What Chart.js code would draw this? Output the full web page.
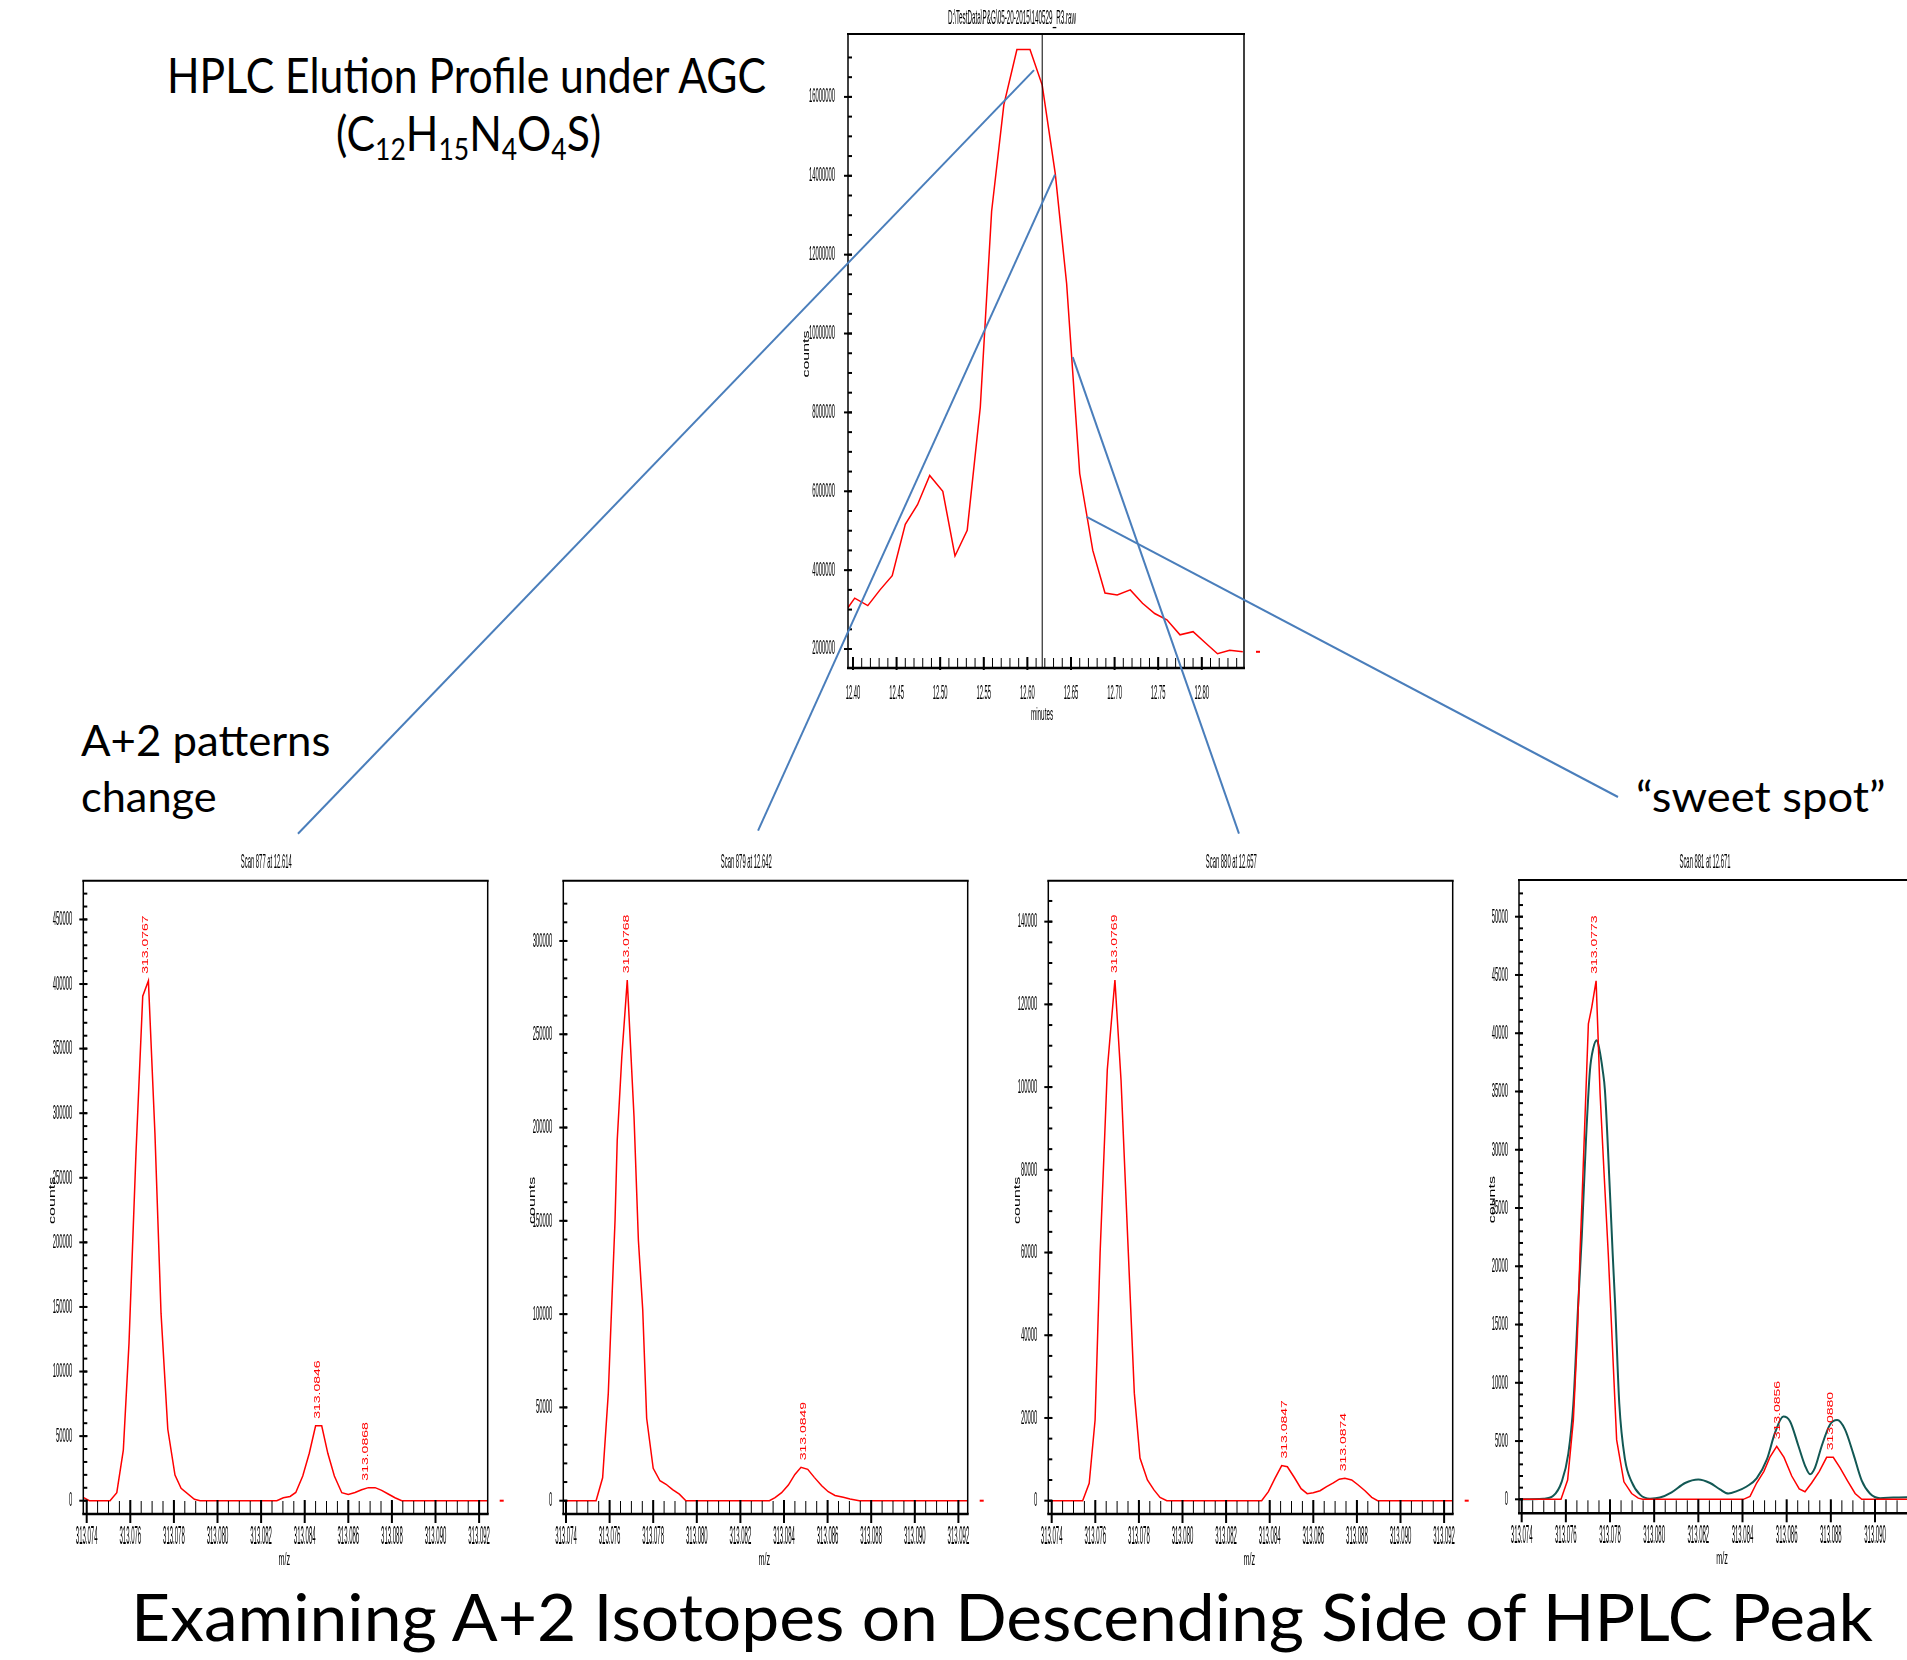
<!DOCTYPE html>
<html>
<head>
<meta charset="utf-8">
<script src="https://cdn.jsdelivr.net/npm/chart.js@4.4.1/dist/chart.umd.min.js"></script>
<style>
  html, body { margin: 0; padding: 0; background: #fff; }
  body { width: 1907px; height: 1660px; position: relative; overflow: hidden; }
  canvas.plot { position: absolute; }
  #callouts { position: absolute; left: 0; top: 0; pointer-events: none; z-index: 5; }
  .slide { position: absolute; font-family: Lato, "Open Sans", sans-serif; color: #000; white-space: nowrap; line-height: 1.2; }
  .slide sub { font-size: 0.62em; vertical-align: -0.3em; line-height: 0; }
</style>
</head>
<body>
<div class="slide" id="t-hplc" style="font-size:49px">HPLC Elution Profile under AGC</div>
<div class="slide" id="t-formula" style="font-size:49px">(C<sub>12</sub>H<sub>15</sub>N<sub>4</sub>O<sub>4</sub>S)</div>
<div class="slide" id="t-a2" style="font-size:43px">A+2 patterns</div>
<div class="slide" id="t-change" style="font-size:43px">change</div>
<div class="slide" id="t-sweet" style="font-size:43px">“sweet spot”</div>
<div class="slide" id="t-bottom" style="font-size:65px">Examining A+2 Isotopes on Descending Side of HPLC Peak</div>

<canvas class="plot" id="tic"></canvas>
<canvas class="plot" id="s877"></canvas>
<canvas class="plot" id="s879"></canvas>
<canvas class="plot" id="s880"></canvas>
<canvas class="plot" id="s881"></canvas>
<canvas id="callouts" width="1907" height="1660"></canvas>

<script>
// HPLC elution profile (total ion counts vs minutes)
const ticTime = [12.394, 12.402, 12.417, 12.431, 12.445, 12.460, 12.474, 12.488, 12.503, 12.517, 12.531,
  12.546, 12.559, 12.573, 12.588, 12.603, 12.617, 12.632, 12.645, 12.660, 12.675, 12.689, 12.703,
  12.718, 12.732, 12.746, 12.760, 12.775, 12.790, 12.804, 12.818, 12.832, 12.847];
const ticCounts = [3040000, 3290000, 3100000, 3500000, 3860000, 5160000, 5660000, 6400000, 6000000, 4360000, 5010000,
  8130000, 13100000, 15800000, 17200000, 17200000, 16300000, 14050000, 11270000, 6450000, 4500000, 3420000, 3370000,
  3500000, 3160000, 2900000, 2740000, 2360000, 2440000, 2160000, 1880000, 1970000, 1930000];
const ticTimeTicks = [12.40, 12.45, 12.50, 12.55, 12.60, 12.65, 12.70, 12.75, 12.80];
const ticCountTicks = [2000000, 4000000, 6000000, 8000000, 10000000, 12000000, 14000000, 16000000];
const ticCursor = 12.617;

// mass spectra around the A+2 region
const mzTicks = [313.074, 313.076, 313.078, 313.080, 313.082, 313.084, 313.086, 313.088, 313.090, 313.092];

const scan877Mz = [313.07384, 313.07412, 313.07507, 313.07538, 313.07568, 313.07594, 313.07626, 313.07657, 313.07683,
  313.07713, 313.07741, 313.07772, 313.07805, 313.07833, 313.07894, 313.07920, 313.08272, 313.08302, 313.08333,
  313.08359, 313.08391, 313.08421, 313.08450, 313.08478, 313.08506, 313.08536, 313.08570, 313.08600, 313.08631,
  313.08661, 313.08692, 313.08723, 313.08753, 313.08783, 313.08814, 313.08845, 313.09239];
const scan877Counts = [2600, 0, 0, 6200, 39200, 121800, 268900, 390600, 402500, 284400, 145000, 55300, 19900, 9600,
  1100, 0, 0, 2300, 3300, 6400, 19100, 36700, 58000, 58000, 36700, 19100, 6200, 4900, 6400, 8500, 10100, 10100,
  8000, 5200, 2300, 0, 0];
const scan877Peaks = ['313.0767', '313.0846', '313.0868'];
const scan877Ticks = [0, 50000, 100000, 150000, 200000, 250000, 300000, 350000, 400000, 450000];

const scan879Mz = [313.07388, 313.07538, 313.07568, 313.07594, 313.07610, 313.07625, 313.07635, 313.07656, 313.07681,
  313.07712, 313.07732, 313.07752, 313.07770, 313.07800, 313.07831, 313.07859, 313.07889, 313.07920, 313.07950,
  313.08333, 313.08359, 313.08389, 313.08420, 313.08450, 313.08478, 313.08509, 313.08539, 313.08573, 313.08603,
  313.08634, 313.08672, 313.08703, 313.08745, 313.09243];
const scan879Counts = [0, 0, 12300, 57500, 105800, 150400, 193300, 237900, 279000, 205800, 139700, 102200, 44200,
  17400, 10700, 8800, 5900, 3500, 0, 0, 1600, 4300, 8400, 14100, 17900, 16800, 12500, 8000, 4800, 2800, 1800, 900, 0, 0];
const scan879Peaks = ['313.0768', '313.0849'];
const scan879Ticks = [0, 50000, 100000, 150000, 200000, 250000, 300000];

const scan880Mz = [313.07384, 313.07542, 313.07572, 313.07599, 313.07622, 313.07655, 313.07690, 313.07718, 313.07749,
  313.07779, 313.07805, 313.07839, 313.07869, 313.07897, 313.07928, 313.08363, 313.08394, 313.08424, 313.08455,
  313.08481, 313.08513, 313.08544, 313.08572, 313.08600, 313.08631, 313.08661, 313.08692, 313.08719, 313.08745,
  313.08776, 313.08806, 313.08837, 313.08868, 313.08895, 313.09239];
const scan880Counts = [0, 0, 4200, 19500, 59800, 104200, 125900, 101700, 63000, 26000, 10300, 5000, 2600, 800, 0,
  0, 2200, 5400, 8500, 8200, 5600, 2900, 1700, 1900, 2400, 3400, 4300, 5200, 5400, 5000, 3800, 2400, 800, 0, 0];
const scan880Peaks = ['313.0769', '313.0847', '313.0874'];
const scan880Ticks = [0, 20000, 40000, 60000, 80000, 100000, 120000, 140000];

const scan881Mz = [313.07388, 313.07578, 313.07608, 313.07634, 313.07652, 313.07664, 313.07672, 313.07702, 313.07717,
  313.07737, 313.07755, 313.07773, 313.07792, 313.07830, 313.07863, 313.07898, 313.07928, 313.07948, 313.08404,
  313.08434, 313.08464, 313.08497, 313.08525, 313.08555, 313.08588, 313.08623, 313.08657, 313.08683, 313.08713,
  313.08748, 313.08781, 313.08811, 313.08842, 313.08875, 313.08910, 313.08940, 313.09227];
const scan881Counts = [0, 0, 1650, 6800, 13900, 21100, 25100, 40800, 42200, 44500, 34800, 28000, 21100, 5100, 1500,
  500, 100, 0, 0, 250, 1400, 2400, 3650, 4550, 3600, 2000, 900, 650, 1400, 2400, 3600, 3600, 2700, 1600, 500, 0, 0];
const scan881Peaks = ['313.0773', '313.0856', '313.0880'];
const scan881Ticks = [0, 5000, 10000, 15000, 20000, 25000, 30000, 35000, 40000, 45000, 50000];
// dark trace in scan 881
const scan881ModelMz = [313.07388, 313.07498, 313.07543, 313.07581, 313.07611, 313.07634, 313.07656, 313.07672,
  313.07691, 313.07709, 313.07724, 313.07740, 313.07751, 313.07767, 313.07777, 313.07800, 313.07812, 313.07823,
  313.07842, 313.07868, 313.07898, 313.07936, 313.07981, 313.08026, 313.08079, 313.08140, 313.08200, 313.08253,
  313.08298, 313.08336, 313.08374, 313.08419, 313.08464, 313.08510, 313.08547, 313.08585, 313.08615, 313.08653,
  313.08683, 313.08706, 313.08728, 313.08759, 313.08796, 313.08829, 313.08864, 313.08902, 313.08940, 313.08977,
  313.09023, 313.09083, 313.09144, 313.09227];
const scan881ModelCounts = [0, 50, 300, 1500, 3900, 8200, 16800, 22500, 30800, 36800, 38700, 39400, 38700, 36800,
  35100, 26200, 21100, 16800, 8200, 3400, 1500, 400, 50, 150, 600, 1400, 1700, 1400, 850, 500, 700, 1100, 1800,
  3400, 5700, 7100, 6700, 4600, 2900, 2150, 2700, 4600, 6400, 6800, 6000, 3900, 1600, 500, 100, 150, 180, 180];

const RED = 'rgb(255,0,0)';
const TEAL = 'rgb(18,88,84)';
const BLUE = '#4a7ebb';
const FONT = '"Liberation Sans", Arial, sans-serif';

function range(start, end, step) {
  const out = [];
  const n = Math.round((end - start) / step);
  for (let i = 0; i <= n; i++) out.push(start + i * step);
  return out;
}

function toPoints(xs, ys) {
  return xs.map((x, i) => ({ x: x, y: ys[i] }));
}

// squeezed instrument-style text (the exported screenshot was compressed)
function squish(ctx, text, x, y, o) {
  ctx.save();
  ctx.translate(x, y);
  if (o.rotate) ctx.rotate(-Math.PI / 2);
  ctx.scale(o.sx || 1, o.sy || 1);
  ctx.font = o.size + 'px ' + FONT;
  ctx.textAlign = o.align || 'center';
  ctx.textBaseline = o.baseline || 'middle';
  ctx.fillStyle = o.color || '#000';
  ctx.fillText(text, 0, 0);
  ctx.restore();
}

function seg(ctx, x1, y1, x2, y2, w) {
  ctx.lineWidth = w;
  ctx.beginPath();
  ctx.moveTo(x1, y1);
  ctx.lineTo(x2, y2);
  ctx.stroke();
}

const framePlugin = {
  id: 'frame',
  afterDatasetsDraw(chart, args, o) {
    const { ctx, chartArea: a, scales: { x, y } } = chart;
    ctx.save();
    ctx.strokeStyle = '#000';

    if (o.cursor != null) {
      const cx = x.getPixelForValue(o.cursor);
      seg(ctx, cx, a.top, cx, a.bottom, 1);
    }

    // x ticks sit inside the frame, majors poke below
    o.xMinor.forEach(v => {
      const px = x.getPixelForValue(v);
      if (px > a.left + 1 && px < a.right - 1) seg(ctx, px, a.bottom, px, a.bottom - o.xTickIn, 1);
    });
    o.xTicks.forEach(v => {
      const px = x.getPixelForValue(v);
      seg(ctx, px, a.bottom + o.xMajorOut, px, a.bottom - o.xTickIn - 1, 2);
      squish(ctx, v.toFixed(o.xDigits), px, a.bottom + o.xLabelGap, { size: o.xSize, sx: o.xSx });
    });

    o.yMinor.forEach(v => {
      const py = y.getPixelForValue(v);
      if (py > a.top + 3 && py < a.bottom - 3) seg(ctx, a.left, py, a.left + 4, py, 2);
    });
    o.yTicks.forEach(v => {
      const py = y.getPixelForValue(v);
      seg(ctx, a.left - 4, py, a.left + 4, py, 2);
      squish(ctx, String(v), a.left - o.yLabelGap, py, { size: o.ySize, sx: o.ySx, align: 'right' });
    });

    // frame
    seg(ctx, a.left - 1, a.top, a.right + 1, a.top, 2);
    seg(ctx, a.right, a.top, a.right, a.bottom, 1.5);
    seg(ctx, a.left, a.top, a.left, a.bottom, 1.5);
    seg(ctx, a.left - 1, a.bottom, a.right + 1, a.bottom, 2.5);

    // titles
    squish(ctx, o.title, a.left + o.titleDx, a.top + o.titleDy, { size: 21, sx: o.titleSx });
    squish(ctx, o.xTitle, a.left + o.xTitleDx, a.bottom + o.xTitleDy, { size: 18, sx: o.xTitleSx });
    squish(ctx, 'counts', a.left + o.yTitleDx, (a.top + a.bottom) / 2 + 3, { size: 16, sy: 0.6, rotate: true });

    // peak annotations above each labelled maximum
    const ds = chart.data.datasets[0].data;
    (o.peaks || []).forEach(label => {
      const m = parseFloat(label);
      let best = null;
      ds.forEach(p => { if (Math.abs(p.x - m) < 0.0004 && (!best || p.y > best.y)) best = p; });
      if (!best) return;
      squish(ctx, label, x.getPixelForValue(m), y.getPixelForValue(best.y) - 7,
        { size: 14, sy: 0.6, rotate: true, align: 'left', color: RED });
    });

    // trace end marker outside the frame
    const last = ds[ds.length - 1];
    ctx.fillStyle = RED;
    ctx.fillRect(a.right + 12, y.getPixelForValue(last.y) - 1, 4, 2);
    ctx.restore();
  }
};

function makeChart(id, place, datasets, scales, frame) {
  const cv = document.getElementById(id);
  cv.width = place.w;
  cv.height = place.h;
  cv.style.left = place.left + 'px';
  cv.style.top = place.top + 'px';
  cv.style.width = place.w + 'px';
  cv.style.height = place.h + 'px';
  return new Chart(cv, {
    type: 'line',
    data: { datasets: datasets },
    options: {
      responsive: false,
      animation: false,
      events: [],
      layout: { padding: place.pad },
      elements: { point: { radius: 0 }, line: { tension: 0 } },
      plugins: { legend: { display: false }, tooltip: { enabled: false }, frame: frame },
      scales: {
        x: { type: 'linear', display: false, min: scales.x[0], max: scales.x[1] },
        y: { type: 'linear', display: false, min: scales.y[0], max: scales.y[1] }
      }
    },
    plugins: [framePlugin]
  });
}

const specFrame = {
  xTicks: mzTicks, xMinor: range(313.074, 313.092, 0.0005), xDigits: 3,
  xTickIn: 13, xMajorOut: 9, xLabelGap: 23, xSize: 25, xSx: 0.24,
  yLabelGap: 11, ySize: 21, ySx: 0.28,
  titleDx: 183, titleDy: -18, titleSx: 0.28,
  xTitle: 'm/z', xTitleDx: 201, xTitleDy: 46, xTitleSx: 0.4,
  yTitleDx: -31
};

function redLine(xs, ys) {
  return { data: toPoints(xs, ys), borderColor: RED, borderWidth: 1.5, fill: false };
}

const tic = makeChart('tic',
  { left: 790, top: 0, w: 480, h: 730, pad: { left: 58, top: 34, right: 26, bottom: 62 } },
  [redLine(ticTime, ticCounts)],
  { x: [12.3943, 12.8484], y: [1519000, 17595000] },
  {
    xTicks: ticTimeTicks, xMinor: range(12.40, 12.84, 0.01), xDigits: 2,
    xTickIn: 10, xMajorOut: 2, xLabelGap: 26, xSize: 19.5, xSx: 0.3,
    yTicks: ticCountTicks, yMinor: range(2000000, 17000000, 500000),
    yLabelGap: 13, ySize: 19.5, ySx: 0.3,
    title: 'D:\\TestData\\P&G\\05-20-2015\\140529_R3.raw', titleDx: 164, titleDy: -16, titleSx: 0.3,
    xTitle: 'minutes', xTitleDx: 194, xTitleDy: 47, xTitleSx: 0.35,
    yTitleDx: -42, cursor: ticCursor
  });

const s877 = makeChart('s877',
  { left: 20, top: 840, w: 520, h: 740, pad: { left: 63.3, top: 40.7, right: 52.3, bottom: 66 } },
  [redLine(scan877Mz, scan877Counts)],
  { x: [313.073844, 313.092394], y: [-10300, 480000] },
  Object.assign({}, specFrame, { yTicks: scan877Ticks, yMinor: range(0, 470000, 10000),
    title: 'Scan 877 at 12.614', peaks: scan877Peaks }));

const s879 = makeChart('s879',
  { left: 500, top: 840, w: 520, h: 740, pad: { left: 63.3, top: 40.7, right: 52.3, bottom: 66 } },
  [redLine(scan879Mz, scan879Counts)],
  { x: [313.073876, 313.092427], y: [-7130, 332300] },
  Object.assign({}, specFrame, { yTicks: scan879Ticks, yMinor: range(0, 320000, 10000),
    title: 'Scan 879 at 12.642', peaks: scan879Peaks }));

const s880 = makeChart('s880',
  { left: 985, top: 840, w: 520, h: 740, pad: { left: 63.3, top: 40.7, right: 52.3, bottom: 66 } },
  [redLine(scan880Mz, scan880Counts)],
  { x: [313.073844, 313.092394], y: [-3220, 149900] },
  Object.assign({}, specFrame, { yTicks: scan880Ticks, yMinor: range(0, 145000, 5000),
    title: 'Scan 880 at 12.657', peaks: scan880Peaks }));

const s881 = makeChart('s881',
  { left: 1460, top: 840, w: 520, h: 740, pad: { left: 59, top: 40, right: 55, bottom: 66.7 } },
  [redLine(scan881Mz, scan881Counts),
   { data: toPoints(scan881ModelMz, scan881ModelCounts), borderColor: TEAL, borderWidth: 2,
     cubicInterpolationMode: 'monotone', fill: false }],
  { x: [313.073878, 313.092265], y: [-1200, 53150] },
  Object.assign({}, specFrame, { yTicks: scan881Ticks, yMinor: range(0, 52000, 1000),
    title: 'Scan 881 at 12.671', titleDx: 186, yTitleDx: -27, xTitleDx: 203, peaks: scan881Peaks }));

// slide text: place by baseline, stretch to the measured span
function placeText(id, left, right, baseline) {
  const el = document.getElementById(id);
  const probe = document.createElement('span');
  probe.style.cssText = 'display:inline-block;width:0;height:0;vertical-align:baseline;';
  el.appendChild(probe);
  const base = probe.offsetTop;
  el.removeChild(probe);
  el.style.left = left + 'px';
  el.style.top = (baseline - base) + 'px';
  el.style.transformOrigin = '0 0';
  el.style.transform = 'scaleX(' + ((right - left) / el.offsetWidth) + ')';
}
placeText('t-hplc', 167, 766, 92.5);
placeText('t-formula', 336, 601, 151);
placeText('t-a2', 81, 330, 756);
placeText('t-change', 81, 217, 812);
placeText('t-sweet', 1636, 1886, 812);
placeText('t-bottom', 131, 1873, 1641);

// callout lines from the elution profile down to each scan
const callouts = [
  { t: 12.6076, c: 16680000, to: s877, mz: 313.08369, lift: 47 },
  { t: 12.6317, c: 14030000, to: s879, mz: 313.08281, lift: 50 },
  { t: 12.6520, c: 9400000, to: s880, mz: 313.08259, lift: 47 },
  { t: 12.6680, c: 5350000, to: null }
];
const octx = document.getElementById('callouts').getContext('2d');
octx.strokeStyle = BLUE;
octx.lineWidth = 2;
callouts.forEach(k => {
  const c0 = tic.canvas;
  const x0 = c0.offsetLeft + tic.scales.x.getPixelForValue(k.t);
  const y0 = c0.offsetTop + tic.scales.y.getPixelForValue(k.c);
  let x1, y1;
  if (k.to) {
    x1 = k.to.canvas.offsetLeft + k.to.scales.x.getPixelForValue(k.mz);
    y1 = k.to.canvas.offsetTop + k.to.chartArea.top - k.lift;
  } else {
    x1 = 1636 - 18;
    y1 = 812 - 15;
  }
  octx.beginPath();
  octx.moveTo(x0, y0);
  octx.lineTo(x1, y1);
  octx.stroke();
});
</script>
</body>
</html>
